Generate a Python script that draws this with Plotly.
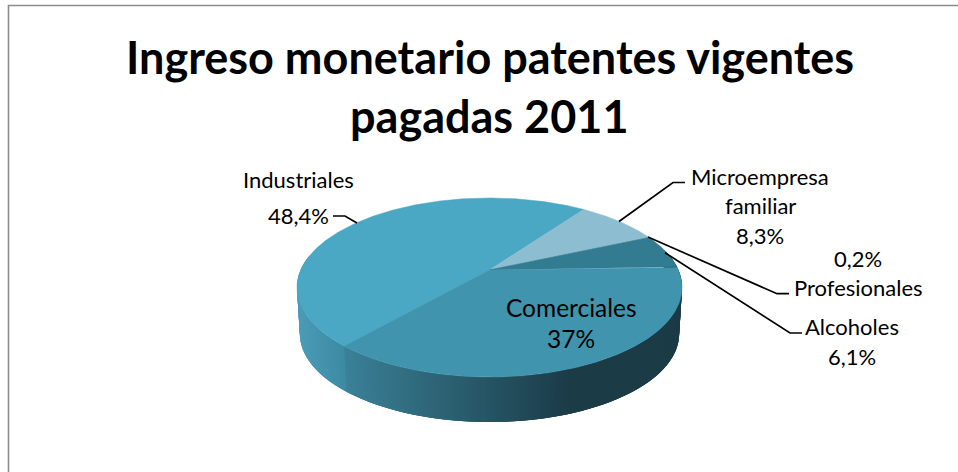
import math
import plotly.graph_objects as go

categories = ["Industriales", "Microempresa familiar", "Profesionales", "Alcoholes", "Comerciales"]
values = [48.4, 8.3, 0.2, 6.1, 37.0]
value_labels = ["48,4%", "8,3%", "0,2%", "6,1%", "37%"]
title_lines = ["Ingreso monetario patentes vigentes", "pagadas 2011"]

top_colors = ["#4AA8C4", "#8DBDD0", "#6FA9BE", "#327B91", "#4094AE"]
FONT = "Lato"

# projection of the tilted disc
CX, CY, R, H, K = 489.5, 270.0, 188.8, 86.1, 0.1955
DEPTH, SHRINK = 46.6, 0.985
START = 228.9


def top(t):
    s, c = math.sin(math.radians(t)), math.cos(math.radians(t))
    w = 1 + K * s
    return CX + R * c / w, CY - H * s / w


def bottom(t):
    s, c = math.sin(math.radians(t)), math.cos(math.radians(t))
    w = 1 + K * s
    return CX + SHRINK * R * c / w, CY + DEPTH - SHRINK * H * s / w


def mix(stops, x):
    if x <= stops[0][0]:
        return "rgb(%d,%d,%d)" % stops[0][1]
    for (a, ca), (b, cb) in zip(stops, stops[1:]):
        if x <= b:
            f = (x - a) / (b - a)
            rgb = [round(ca[i] + (cb[i] - ca[i]) * f) for i in range(3)]
            return "rgb(%d,%d,%d)" % tuple(rgb)
    return "rgb(%d,%d,%d)" % stops[-1][1]


left_stops = [(297, (76, 156, 183)), (345, (60, 137, 163))]
right_stops = [(346, (58, 128, 151)), (450, (43, 96, 113)), (570, (27, 59, 71)), (690, (27, 59, 71))]

total = sum(values)
edges = [START]
for v in values:
    edges.append(edges[-1] - v / total * 360)

fig = go.Figure()


def poly(xs, ys, color, lw=0.5):
    fig.add_trace(go.Scatter(x=xs, y=ys, mode="lines", fill="toself", fillcolor=color,
                             line=dict(color=color, width=lw), hoverinfo="skip", showlegend=False))


# outer frame
fig.add_trace(go.Scatter(x=[8.5, 8.5, 958], y=[472, 5.5, 5.5], mode="lines",
                         line=dict(color="#8C8C8C", width=1.6), hoverinfo="skip", showlegend=False))

# rim, drawn as overlapping narrow strips so its shading can follow the x position
step = 1.0
t = 170.0
while t < 372:
    a, b = t, t + 3 * step
    pts = [top(a), top(b), bottom(b), bottom(a)]
    xs = [p[0] for p in pts] + [pts[0][0]]
    ys = [p[1] for p in pts] + [pts[0][1]]
    xm = (pts[0][0] + top(t + step)[0]) / 2
    color = mix(left_stops, xm) if t < START else mix(right_stops, xm)
    poly(xs, ys, color, 0)
    t += step

# top face
for i, color in enumerate(top_colors):
    a, b = edges[i], edges[i + 1]
    n = max(2, int(abs(a - b) * 2))
    pts = [top(a + (b - a) * j / n) for j in range(n + 1)]
    xs = [CX] + [p[0] for p in pts] + [CX]
    ys = [CY] + [p[1] for p in pts] + [CY]
    poly(xs, ys, color)

# leader lines
leaders = [
    ([333, 345, 357], [216, 216, 223]),
    ([685, 673, 619], [182.5, 182.5, 221.5]),
    ([789, 777, 648], [293.7, 293.7, 237]),
    ([802, 790, 665], [333, 333, 252.7]),
]
for xs, ys in leaders:
    fig.add_trace(go.Scatter(x=xs, y=ys, mode="lines", line=dict(color="#000000", width=1.7),
                             hoverinfo="skip", showlegend=False))

annotations = []


def note(text, x, y, size, bold=False):
    annotations.append(dict(x=x, y=y, xref="x", yref="y", text="<b>%s</b>" % text if bold else text,
                            showarrow=False, xanchor="center", yanchor="middle",
                            font=dict(family=FONT, size=size, color="#000000")))


note(title_lines[0], 490, 57, 45, True)
note(title_lines[1], 489, 116, 45, True)
note(categories[0], 298, 179, 22)
note(value_labels[0], 298, 215, 22)
note("Microempresa", 760, 176, 22)
note("familiar", 760, 205, 22)
note(value_labels[1], 760, 235, 22)
note(value_labels[2], 858, 258, 22)
note(categories[2], 858, 287, 22)
note(categories[3], 852, 326, 22)
note(value_labels[3], 852, 356, 22)
note(categories[4], 571, 307, 24.5)
note(value_labels[4], 571, 338, 24.5)

fig.update_layout(
    width=958, height=472, margin=dict(l=0, r=0, t=0, b=0),
    paper_bgcolor="white", plot_bgcolor="white", showlegend=False,
    xaxis=dict(range=[0, 958], visible=False, fixedrange=True),
    yaxis=dict(range=[472, 0], visible=False, fixedrange=True),
    annotations=annotations,
)
fig.write_html("out.html", config={"displayModeBar": False},
               post_script="document.body.style.margin='0';document.documentElement.style.overflow='hidden';")
